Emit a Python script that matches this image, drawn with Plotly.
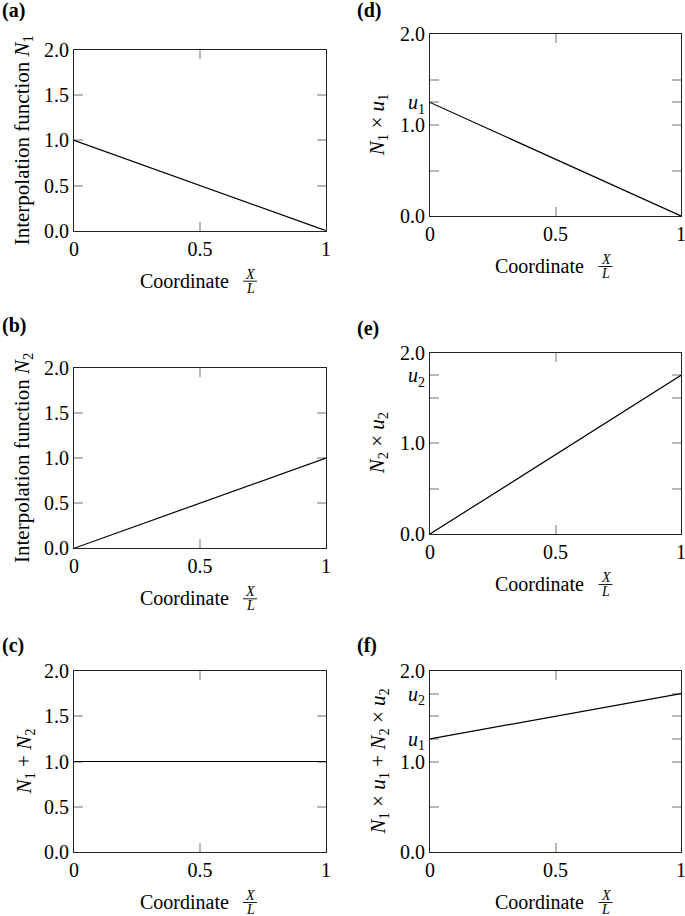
import plotly.graph_objects as go

W, H = 685, 916

# ---- data ----
x_nodes = [0, 1]
N1 = [1.0, 0.0]
N2 = [0.0, 1.0]
N_sum = [1.0, 1.0]
u1 = 1.25
u2 = 1.75
N1u1 = [1.25, 0.0]
N2u2 = [0.0, 1.75]
uh = [1.25, 1.75]

x_tickvals = [0, 0.5, 1]
x_ticktext = ["0", "0.5", "1"]

y_std_vals = [0, 0.5, 1.0, 1.5, 2.0]
y_std_text = ["0.0", "0.5", "1.0", "1.5", "2.0"]

y_d_vals = [0, 0.5, 1.0, u1, 1.5, 2.0]
y_d_text = ["0.0", "", "1.0", "<i>u</i><sub>1</sub>", "", "2.0"]
y_e_vals = [0, 0.5, 1.0, 1.5, u2, 2.0]
y_e_text = ["0.0", "", "1.0", "", "<i>u</i><sub>2</sub>", "2.0"]
y_f_vals = [0, 0.5, 1.0, u1, 1.5, u2, 2.0]
y_f_text = ["0.0", "", "1.0", "<i>u</i><sub>1</sub>", "", "<i>u</i><sub>2</sub>", "2.0"]

panel_labels = ["(a)", "(b)", "(c)", "(d)", "(e)", "(f)"]
y_titles = [
    "Interpolation function <i>N</i><sub>1</sub>",
    "Interpolation function <i>N</i><sub>2</sub>",
    "<i>N</i><sub>1</sub> + <i>N</i><sub>2</sub>",
    "<i>N</i><sub>1</sub> × <i>u</i><sub>1</sub>",
    "<i>N</i><sub>2</sub> × <i>u</i><sub>2</sub>",
    "<i>N</i><sub>1</sub> × <i>u</i><sub>1</sub> + <i>N</i><sub>2</sub> × <i>u</i><sub>2</sub>",
]
series = [N1, N2, N_sum, N1u1, N2u2, uh]
ytick_sets = [
    (y_std_vals, y_std_text), (y_std_vals, y_std_text), (y_std_vals, y_std_text),
    (y_d_vals, y_d_text), (y_e_vals, y_e_text), (y_f_vals, y_f_text),
]

# ---- layout geometry (pixels) ----
boxes = [
    (74, 326, 50, 230.7),
    (74, 326, 367.7, 548.3),
    (74, 326, 671, 852),
    (430, 681, 34.3, 216),
    (430, 681, 352.7, 534),
    (430, 681, 671, 852),
]
label_pos = [(0, 10.5), (0, 325), (0, 645), (355, 10.5), (355, 329), (355, 645)]
ytitle_x = [23, 23, 24, 378, 378, 378]

FONT = "Liberation Serif"
fs = 20

def px(x):
    return x / W

def py(y):
    return 1 - y / H

fig = go.Figure()
annotations = []
shapes = []
layout = {}

for i in range(6):
    x0, x1, y0, y1 = boxes[i]
    xa = "xaxis" if i == 0 else f"xaxis{i+1}"
    ya = "yaxis" if i == 0 else f"yaxis{i+1}"
    xr = "x" if i == 0 else f"x{i+1}"
    yr = "y" if i == 0 else f"y{i+1}"
    fig.add_trace(go.Scatter(x=x_nodes, y=series[i], mode="lines",
                             line=dict(color="black", width=1.2),
                             xaxis=xr, yaxis=yr, showlegend=False,
                             cliponaxis=False, hoverinfo="skip"))
    common = dict(showline=True, linecolor="#222222", linewidth=1.1, mirror="ticks",
                  ticks="inside", ticklen=9, tickwidth=1.5, tickcolor="#b8b8b8",
                  showgrid=False, zeroline=False, fixedrange=True, automargin=False,
                  layer="below traces", ticklabeloverflow="allow",
                  tickfont=dict(family=FONT, size=fs, color="black"))
    layout[xa] = dict(domain=[px(x0), px(x1)], anchor=yr, range=[0, 1],
                      tickmode="array", tickvals=x_tickvals, ticktext=x_ticktext,
                      ticklabelstandoff=0, **common)
    tv, tt = ytick_sets[i]
    layout[ya] = dict(domain=[py(y1), py(y0)], anchor=xr, range=[0, 2],
                      tickmode="array", tickvals=tv, ticktext=tt,
                      ticklabelstandoff=0, **common)

    # panel label
    lx, ly = label_pos[i]
    annotations.append(dict(text=f"<b>{panel_labels[i]}</b>", x=px(lx), y=py(ly),
                            xref="paper", yref="paper", xanchor="left", yanchor="middle",
                            showarrow=False, font=dict(family=FONT, size=20, color="black")))
    # y title
    annotations.append(dict(text=y_titles[i], x=px(ytitle_x[i]), y=py((y0 + y1) / 2),
                            xref="paper", yref="paper", xanchor="center", yanchor="middle",
                            textangle=-90, showarrow=False,
                            font=dict(family=FONT, size=21, color="black")))
    # x title: "Coordinate" + fraction X/L
    cx = (x0 + x1) / 2
    annotations.append(dict(text="Coordinate", x=px(cx - 16), y=py(y1 + 50),
                            xref="paper", yref="paper", xanchor="center", yanchor="middle",
                            showarrow=False, font=dict(family=FONT, size=fs, color="black")))
    fx = cx + 50
    annotations.append(dict(text="<i>X</i>", x=px(fx), y=py(y1 + 43.5),
                            xref="paper", yref="paper", xanchor="center", yanchor="middle",
                            showarrow=False, font=dict(family=FONT, size=14, color="black")))
    annotations.append(dict(text="<i>L</i>", x=px(fx), y=py(y1 + 57.5),
                            xref="paper", yref="paper", xanchor="center", yanchor="middle",
                            showarrow=False, font=dict(family=FONT, size=14, color="black")))
    shapes.append(dict(type="line", xref="paper", yref="paper",
                       x0=px(fx - 7), x1=px(fx + 7), y0=py(y1 + 50.5), y1=py(y1 + 50.5),
                       line=dict(color="black", width=0.9)))

fig.update_layout(
    width=W, height=H,
    margin=dict(l=0, r=0, t=0, b=0, autoexpand=False),
    paper_bgcolor="white", plot_bgcolor="white",
    font=dict(family=FONT, size=fs, color="black"),
    annotations=annotations, shapes=shapes,
    **layout,
)

fig.write_html("out.html", config={"displayModeBar": False},
               post_script="document.body.style.margin='0';document.body.style.overflow='hidden';")
